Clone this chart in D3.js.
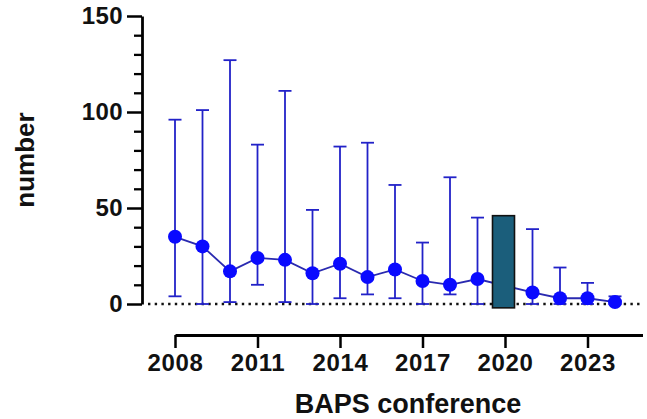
<!DOCTYPE html>
<html><head><meta charset="utf-8">
<script src="https://cdn.jsdelivr.net/npm/d3@7"></script>
<style>
body{margin:0;background:#fff;}
svg{display:block;font-family:"Liberation Sans",Arial,sans-serif;}
</style></head>
<body>
<svg id="chart" width="647" height="419"></svg>
<script>
const years   = [2008,2009,2010,2011,2012,2013,2014,2015,2016,2017,2018,2019,2021,2022,2023,2024];
const medians = [35,30,17,24,23,16,21,14,18,12,10,13,6,3,3,1];
const upper   = [96,101,127,83,111,49,82,84,62,32,66,45,39,19,11,4];
const lower   = [4,0,1,10,1,0,3,5,3,0,5,0,0,0,0,0];
const barYear = [2020];
const barTop  = [46];
const barBase = [-2];
const xTicks  = [2008,2011,2014,2017,2020,2023];
const yTicks  = [0,50,100,150];
const yMinor  = [10,20,30,40,60,70,80,90,110,120,130,140];

const svg = d3.select("#chart");
const x = d3.scaleLinear().domain([2008,2025]).range([175,642.5]);
const y = d3.scaleLinear().domain([0,150]).range([304,16]);

// zero dotted line
svg.append("line").attr("x1",148).attr("x2",641).attr("y1",y(0)).attr("y2",y(0))
  .attr("stroke","#111").attr("stroke-width",2.5).attr("stroke-dasharray","2.4,4.3");

// y axis
const ya = svg.append("g").attr("transform","translate(142,0)")
  .call(d3.axisLeft(y).tickValues(yTicks).tickSize(15).tickSizeOuter(0).tickPadding(4));
ya.select(".domain").attr("stroke","#000").attr("stroke-width",2.8);
ya.selectAll(".tick line").attr("stroke","#000").attr("stroke-width",2.5);
ya.selectAll(".tick text").attr("font-size",24).attr("font-weight","bold").attr("fill","#111")
  .attr("letter-spacing",0.4).attr("font-family","'Liberation Sans',Arial,sans-serif");
const ym = svg.append("g").attr("transform","translate(142,0)")
  .call(d3.axisLeft(y).tickValues(yMinor).tickSize(8).tickFormat(""));
ym.select(".domain").remove();
ym.selectAll(".tick line").attr("stroke","#000").attr("stroke-width",2.3);

// x axis
const xa = svg.append("g").attr("transform","translate(0,335)")
  .call(d3.axisBottom(x).tickValues(xTicks).tickFormat(d3.format("d")).tickSize(13).tickSizeOuter(0).tickPadding(6));
xa.select(".domain").attr("stroke","#000").attr("stroke-width",2.8);
xa.selectAll(".tick line").attr("stroke","#000").attr("stroke-width",2.5);
xa.selectAll(".tick text").attr("font-size",24).attr("font-weight","bold").attr("fill","#111")
  .attr("letter-spacing",0.6).attr("font-family","'Liberation Sans',Arial,sans-serif");

const data = years.map((yr,i)=>({yr,m:medians[i],hi:upper[i],lo:lower[i]}));
const errColor = "#2222c8";
const eb = svg.append("g").attr("stroke",errColor).attr("stroke-width",1.8);
eb.selectAll(".v").data(data).join("line")
  .attr("x1",d=>x(d.yr)).attr("x2",d=>x(d.yr)).attr("y1",d=>y(d.hi)).attr("y2",d=>y(d.lo));
eb.selectAll(".t").data(data).join("line")
  .attr("x1",d=>x(d.yr)-6.5).attr("x2",d=>x(d.yr)+6.5).attr("y1",d=>y(d.hi)).attr("y2",d=>y(d.hi));
eb.selectAll(".b").data(data).join("line")
  .attr("x1",d=>x(d.yr)-6.5).attr("x2",d=>x(d.yr)+6.5).attr("y1",d=>y(d.lo)).attr("y2",d=>y(d.lo));

svg.append("path").datum(data)
  .attr("d",d3.line().x(d=>x(d.yr)).y(d=>y(d.m)))
  .attr("fill","none").attr("stroke","#2a2ab0").attr("stroke-width",1.8);

svg.selectAll(".pt").data(data).join("circle")
  .attr("cx",d=>x(d.yr)).attr("cy",d=>y(d.m)).attr("r",7).attr("fill","#0a0aff");

// bar
const bw = (x(2009)-x(2008))*0.8;
svg.selectAll(".bar").data(barYear).join("rect")
  .attr("x",(d)=>x(d)-bw/2-1.5).attr("width",bw)
  .attr("y",(d,i)=>y(barTop[i])).attr("height",(d,i)=>y(barBase[i])-y(barTop[i]))
  .attr("fill","#1b5e7b").attr("stroke","#111").attr("stroke-width",1.6);

// titles
svg.append("text").attr("x",408).attr("y",413).attr("text-anchor","middle")
  .attr("font-size",27).attr("font-weight","bold").attr("fill","#111").text("BAPS conference");
svg.append("text").attr("transform","translate(34,160) rotate(-90)").attr("text-anchor","middle")
  .attr("font-size",26).attr("font-weight","bold").attr("fill","#111").text("number");
</script>
</body></html>
